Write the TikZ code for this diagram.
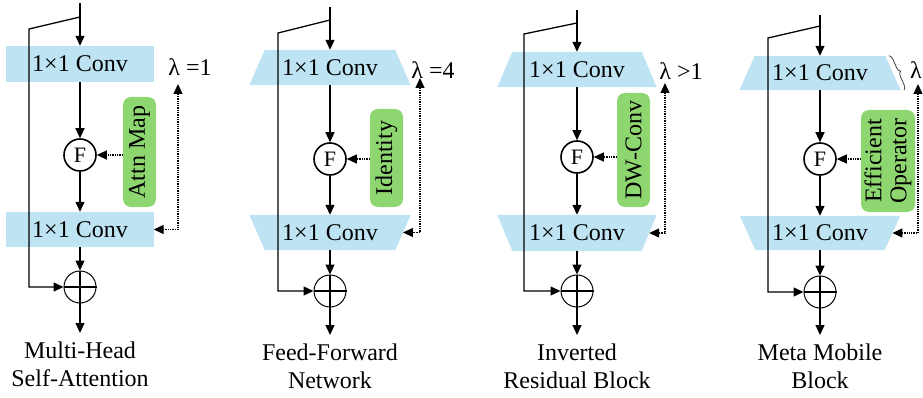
\documentclass[tikz,border=0pt]{standalone}
\usepackage{fontspec}
\setmainfont{Liberation Serif}
\usetikzlibrary{arrows.meta,decorations.pathreplacing,backgrounds}
\definecolor{convblue}{RGB}{190,228,244}
\definecolor{opgreen}{RGB}{142,214,112}
\newcommand{\bigtxt}{\fontsize{24}{28}\selectfont}
\newcommand{\convtrap}[6]{%
  \node[convtext, minimum width=#4, minimum height=#5] (#1) at (#2,#3) {1×1 Conv};
  \begin{scope}[on background layer]
    \fill[convblue] ([xshift={(#6)*0.5}]#1.north west) -- ([xshift={(#6)*(-0.5)}]#1.north east)
      -- ([xshift={(#6)*0.5}]#1.south east) -- ([xshift={(#6)*(-0.5)}]#1.south west) -- cycle;
  \end{scope}}
\tikzset{
  convtext/.style={inner sep=0pt, font=\bigtxt},
  arr/.style={-{Triangle[length=10pt,width=9pt]}, line width=1.3pt},
  dotarr/.style={densely dotted, line width=1.3pt, -{Triangle[length=10pt,width=9pt]}},
  dotarrs/.style={densely dotted, line width=1.3pt, {Triangle[length=10pt,width=9pt]}-{Triangle[length=10pt,width=9pt]}},
  fcirc/.style={circle, draw, line width=1.6pt, minimum size=32pt, inner sep=0pt, font=\fontsize{22}{22}\selectfont},
  pcirc/.style={circle, draw, line width=1pt, minimum size=32pt, inner sep=0pt},
  gbox/.style={fill=opgreen, rounded corners=8pt, inner sep=0pt},
  gtext/.style={rotate=90, font=\bigtxt, inner sep=0pt},
  lam/.style={font=\bigtxt, inner sep=0pt},
  captext/.style={font=\bigtxt, align=center, inner sep=0pt},
  bracestyle/.style={decorate, decoration={brace, amplitude=4.5pt}, line width=0.8pt, black!75}
}
\begin{document}
\begin{tikzpicture}[x=1pt,y=-1pt]
\useasboundingbox (0,0) rectangle (923,398);

% ---------- Panel 1 ----------
\convtrap{c11}{80}{64}{147}{36}{0}
\convtrap{c12}{80}{229.5}{147}{35}{0}
\node[fcirc] (F1) at (80,155) {F};
\node[pcirc] (p1) at (80,287) {};
\draw[line width=1.3pt] (p1.north) -- (p1.south) (p1.west) -- (p1.east);
\node[gbox, minimum width=33, minimum height=110] (g1) at (139.5,152) {};
\node[gtext] (g1t) at (g1) {Attn Map};
\coordinate (in1) at (80,3);
\coordinate (b1) at (80,17);
\coordinate (k1) at (29,29);
\coordinate (o1) at (80,333);
\coordinate (t1) at (178,84);
\draw[arr] (in1) -- (c11.north);
\draw[arr] (b1) -- (k1) |- (p1.west);
\draw[arr] (c11.south) -- (F1.north);
\draw[arr] (F1.south) -- (c12.north);
\draw[arr] (c12.south) -- (p1.north);
\draw[arr] (p1.south) -- (o1);
\draw[dotarr] (g1.west |- F1) -- (F1.east);
\draw[dotarrs] (t1) |- (c12.east);
\node[lam] (l1) at (190,67) {λ =1};
\node[captext] (n1) at (80,364) {Multi-Head\\Self-Attention};

% ---------- Panel 2 ----------
\convtrap{c21}{330}{67.5}{145.5}{35}{15.5}
\convtrap{c22}{330}{232.5}{145.5}{35}{-15.5}
\node[fcirc] (F2) at (330,159) {F};
\node[pcirc] (p2) at (330,291) {};
\draw[line width=1.3pt] (p2.north) -- (p2.south) (p2.west) -- (p2.east);
\node[gbox, minimum width=33, minimum height=98] (g2) at (386.5,158) {};
\node[gtext] (g2t) at (g2) {Identity};
\coordinate (in2) at (330,7);
\coordinate (b2) at (330,20);
\coordinate (k2) at (278,33);
\coordinate (o2) at (330,335);
\coordinate (t2) at (420,78);
\draw[arr] (in2) -- (c21.north);
\draw[arr] (b2) -- (k2) |- (p2.west);
\draw[arr] (c21.south) -- (F2.north);
\draw[arr] (F2.south) -- (c22.north);
\draw[arr] (c22.south) -- (p2.north);
\draw[arr] (p2.south) -- (o2);
\draw[dotarr] (g2.west |- F2) -- (F2.east);
\draw[dotarrs] (t2) |- (c22.east);
\node[lam] (l2) at (433,70) {λ =4};
\node[captext] (n2) at (330,366.5) {Feed-Forward\\Network};

% ---------- Panel 3 ----------
\convtrap{c31}{577}{69.5}{144}{35}{15}
\convtrap{c32}{577}{233}{144}{36}{-15}
\node[fcirc] (F3) at (577,157) {F};
\node[pcirc] (p3) at (577,291) {};
\draw[line width=1.3pt] (p3.north) -- (p3.south) (p3.west) -- (p3.east);
\node[gbox, minimum width=33, minimum height=114] (g3) at (633.5,150) {};
\node[gtext] (g3t) at (g3) {DW-Conv};
\coordinate (in3) at (577,10);
\coordinate (b3) at (577,23);
\coordinate (k3) at (524,34);
\coordinate (o3) at (577,335);
\coordinate (t3) at (665,83);
\draw[arr] (in3) -- (c31.north);
\draw[arr] (b3) -- (k3) |- (p3.west);
\draw[arr] (c31.south) -- (F3.north);
\draw[arr] (F3.south) -- (c32.north);
\draw[arr] (c32.south) -- (p3.north);
\draw[arr] (p3.south) -- (o3);
\draw[dotarr] (g3.west |- F3) -- (F3.east);
\draw[dotarrs] (t3) |- (c32.east);
\node[lam] (l3) at (681,71) {λ >1};
\node[captext] (n3) at (577,366.5) {Inverted\\Residual Block};

% ---------- Panel 4 ----------
\convtrap{c41}{820}{73}{145.5}{34}{15.5}
\convtrap{c42}{820}{233}{144.5}{34}{-15.5}
\node[fcirc] (F4) at (820,159) {F};
\node[pcirc] (p4) at (820,292) {};
\draw[line width=1.3pt] (p4.north) -- (p4.south) (p4.west) -- (p4.east);
\node[gbox, minimum width=54, minimum height=102] (g4) at (888,161) {};
\node[gtext, align=center, font=\fontsize{24}{25}\selectfont] (g4t) at (g4) {Efficient\\Operator};
\coordinate (in4) at (820,15);
\coordinate (b4) at (820,26);
\coordinate (k4) at (768,38);
\coordinate (o4) at (820,335);
\coordinate (t4) at (918,84);
\draw[arr] (in4) -- (c41.north);
\draw[arr] (b4) -- (k4) |- (p4.west);
\draw[arr] (c41.south) -- (F4.north);
\draw[arr] (F4.south) -- (c42.north);
\draw[arr] (c42.south) -- (p4.north);
\draw[arr] (p4.south) -- (o4);
\draw[dotarr] (g4.west |- F4) -- (F4.east);
\draw[dotarrs] (t4) |- (c42.east);
\draw[bracestyle] ([xshift=-4]c41.north east) -- ([xshift=11]c41.south east);
\node[lam, anchor=west] (l4) at (910,70) {λ};
\node[captext] (n4) at (820,366.5) {Meta Mobile\\Block};
\end{tikzpicture}
\end{document}
